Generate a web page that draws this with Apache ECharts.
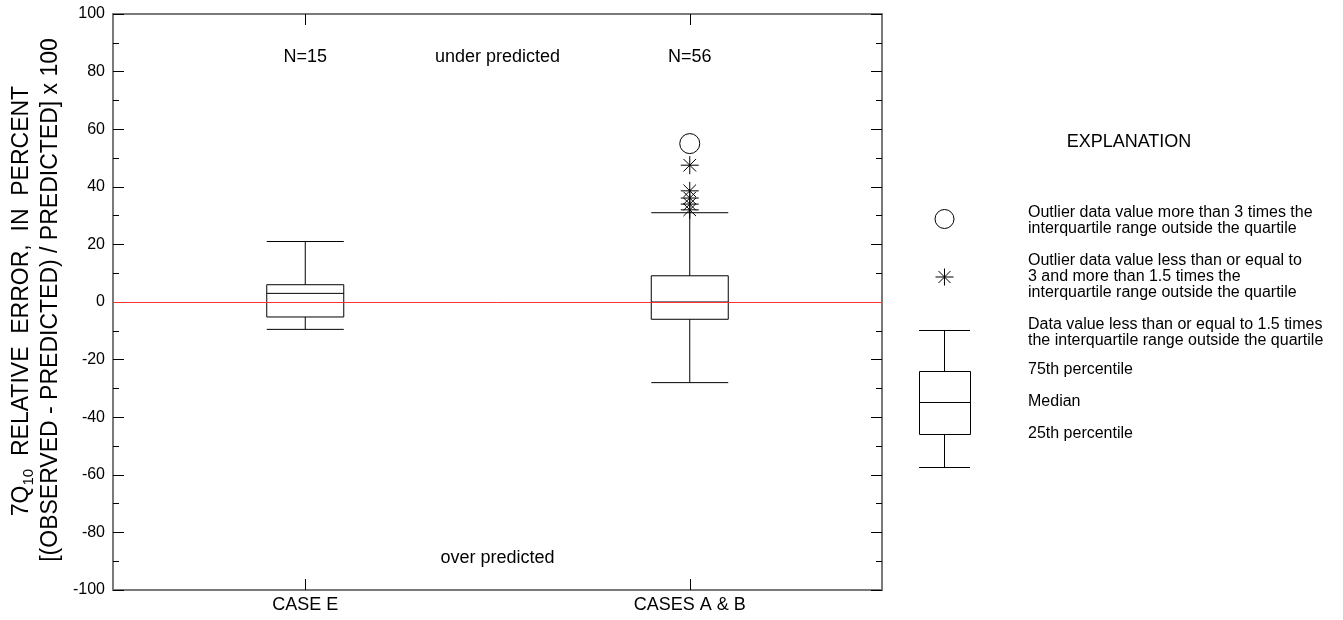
<!DOCTYPE html>
<html>
<head>
<meta charset="utf-8">
<script src="https://cdn.jsdelivr.net/npm/echarts@6/dist/echarts.min.js"></script>
<style>
  html, body { margin: 0; padding: 0; background: #ffffff; }
  #chart { width: 1343px; height: 620px; }
</style>
</head>
<body>
<div id="chart"></div>
<script>
// Groups along the bottom axis
const categories = ['CASE E', 'CASES A & B'];

// Box statistics per group: [lower whisker, 25th pct, median, 75th pct, upper whisker]
const boxStats = [
  [-9.5, -5.2, 3, 6, 21],
  [-28, -6, 0, 9.1, 31]
];

// Outliers beyond 3 x IQR (open circles)
const farOutliers = [
  ['CASES A & B', 55]
];

// Outliers between 1.5 and 3 x IQR (asterisks)
const nearOutliers = [
  ['CASES A & B', 47.5],
  ['CASES A & B', 38.6],
  ['CASES A & B', 36.1],
  ['CASES A & B', 34.0],
  ['CASES A & B', 32.0]
];

// Notes inside the plot: [position on a 0-4 span across the plot, value, text]
const notes = [
  [1, 85, 'N=15'],
  [2, 85, 'under predicted'],
  [3, 85, 'N=56'],
  [2, -89, 'over predicted']
];

// Value axis range
const yMin = -100, yMax = 100, yStep = 20;

// Explanation texts
const explanationTitle = 'EXPLANATION';
const explanationItems = [
  'Outlier data value more than 3 times the\ninterquartile range outside the quartile',
  'Outlier data value less than or equal to\n3 and more than 1.5 times the\ninterquartile range outside the quartile',
  'Data value less than or equal to 1.5 times\nthe interquartile range outside the quartile',
  '75th percentile',
  'Median',
  '25th percentile'
];

const FONT = 'Liberation Sans, Arial, sans-serif';
const FRAME = { color: '#7a7a7a', width: 2 };
const TICK = { color: '#000000', width: 1 };
const starPath = 'path://M10,0L10,20M0,10L20,10M3,3L17,17M3,17L17,3';

const chart = echarts.init(document.getElementById('chart'), null, { renderer: 'canvas' });

function seg(x1, y1, x2, y2) {
  return { type: 'line', shape: { x1: x1, y1: y1, x2: x2, y2: y2 }, style: { stroke: '#000', lineWidth: 1 } };
}

// Explanation panel glyphs and texts
const legendX = 944.5;
const legendTextX = 1028;
const textYs = [221, 276.7, 332.5, 370, 401.7, 433.3];
const legendGraphics = [
  { type: 'text', x: 1129, y: 142, style: { text: explanationTitle, font: '18px ' + FONT, fill: '#000', align: 'center', verticalAlign: 'middle' } },
  { type: 'circle', shape: { cx: legendX, cy: 219, r: 9.5 }, style: { fill: 'none', stroke: '#000', lineWidth: 1 } },
  // asterisk glyph
  seg(944.5, 268.5, 944.5, 285.5),
  seg(935.5, 277, 953.5, 277),
  seg(938.5, 271, 950.5, 283),
  seg(938.5, 283, 950.5, 271),
  // box glyph
  seg(919, 330.5, 970, 330.5),
  seg(legendX, 330.5, legendX, 371.5),
  { type: 'rect', shape: { x: 919.5, y: 371.5, width: 51, height: 63 }, style: { fill: '#fff', stroke: '#000', lineWidth: 1 } },
  seg(919.5, 402.5, 970.5, 402.5),
  seg(legendX, 434.5, legendX, 467.5),
  seg(919, 467.5, 970, 467.5)
];
explanationItems.forEach(function (t, i) {
  legendGraphics.push({
    type: 'text', x: legendTextX, y: textYs[i],
    style: { text: t, font: '16px ' + FONT, fill: '#000', align: 'left', verticalAlign: 'middle', lineHeight: 16 }
  });
});

// Value axis title (two rotated lines, with subscript)
const titleGraphics = [
  {
    type: 'text', x: 22, y: 301, rotation: Math.PI / 2,
    style: {
      text: '{a|7Q}{s|10}{a|  RELATIVE  ERROR,  IN  PERCENT}',
      align: 'center', verticalAlign: 'middle', fill: '#000',
      rich: {
        a: { fontSize: 23, fontFamily: FONT, lineHeight: 28, fill: '#000' },
        s: { fontSize: 15, fontFamily: FONT, lineHeight: 16, verticalAlign: 'bottom', fill: '#000' }
      }
    }
  },
  {
    type: 'text', x: 51, y: 300, rotation: Math.PI / 2,
    style: {
      text: '[(OBSERVED - PREDICTED) / PREDICTED] x 100',
      font: '23px ' + FONT, fill: '#000', align: 'center', verticalAlign: 'middle'
    }
  }
];

const option = {
  animation: false,
  backgroundColor: '#ffffff',
  textStyle: { fontFamily: FONT, color: '#000' },
  grid: { left: 113, right: 461, top: 14, bottom: 30, containLabel: false },
  xAxis: [
    {
      type: 'category', data: categories, position: 'bottom',
      axisLine: { show: true, onZero: false, lineStyle: FRAME },
      axisTick: { show: true, inside: true, alignWithLabel: true, interval: 0, length: 11, lineStyle: TICK },
      axisLabel: { fontSize: 18, color: '#000', margin: 6, fontFamily: FONT },
      splitLine: { show: false }
    },
    {
      type: 'category', data: categories, position: 'top',
      axisLine: { show: true, onZero: false, lineStyle: FRAME },
      axisTick: { show: true, inside: true, alignWithLabel: true, interval: 0, length: 11, lineStyle: TICK },
      axisLabel: { show: false },
      splitLine: { show: false }
    },
    {
      type: 'value', min: 0, max: 4, show: false,
      axisLine: { onZero: false }
    }
  ],
  yAxis: [
    {
      type: 'value', min: yMin, max: yMax, interval: yStep, position: 'left',
      axisLine: { show: true, onZero: false, lineStyle: FRAME },
      axisTick: { show: true, inside: true, length: 11, lineStyle: TICK },
      minorTick: { show: true, splitNumber: 2, length: 6, lineStyle: TICK },
      axisLabel: { fontSize: 16, color: '#000', margin: 8, fontFamily: FONT },
      splitLine: { show: false }
    },
    {
      type: 'value', min: yMin, max: yMax, interval: yStep, position: 'right',
      axisLine: { show: true, onZero: false, lineStyle: FRAME },
      axisTick: { show: true, inside: true, length: 11, lineStyle: TICK },
      minorTick: { show: true, splitNumber: 2, length: 6, lineStyle: TICK },
      axisLabel: { show: false },
      splitLine: { show: false }
    }
  ],
  series: [
    {
      type: 'boxplot', xAxisIndex: 0, yAxisIndex: 0,
      data: boxStats,
      boxWidth: [77, 77],
      itemStyle: { color: '#ffffff', borderColor: '#000000', borderWidth: 1 },
      silent: true, z: 2
    },
    {
      // zero reference line
      type: 'line', xAxisIndex: 0, yAxisIndex: 0, data: [], z: 5,
      markLine: {
        silent: true, symbol: 'none', animation: false,
        label: { show: false },
        lineStyle: { color: '#ff3030', width: 1, type: 'solid' },
        data: [{ yAxis: 0 }]
      }
    },
    {
      type: 'scatter', xAxisIndex: 0, yAxisIndex: 0,
      data: farOutliers,
      symbol: 'circle', symbolSize: 20,
      itemStyle: { color: 'transparent', borderColor: '#000', borderWidth: 1, opacity: 1 },
      silent: true, z: 4
    },
    {
      type: 'scatter', xAxisIndex: 0, yAxisIndex: 0,
      data: nearOutliers,
      symbol: starPath, symbolSize: 18,
      itemStyle: { color: 'transparent', borderColor: '#000', borderWidth: 1, opacity: 1 },
      silent: true, z: 4
    },
    {
      type: 'scatter', xAxisIndex: 2, yAxisIndex: 0,
      data: notes.map(function (n) { return { value: [n[0], n[1]], name: n[2] }; }),
      symbolSize: 0,
      itemStyle: { opacity: 1 },
      label: { show: true, position: 'inside', formatter: '{b}', fontSize: 18, color: '#000000', opacity: 1, textBorderWidth: 0, fontFamily: FONT },
      labelLayout: { hideOverlap: false },
      silent: true, z: 6
    }
  ],
  graphic: titleGraphics.concat(legendGraphics)
};

chart.setOption(option);
</script>
</body>
</html>
